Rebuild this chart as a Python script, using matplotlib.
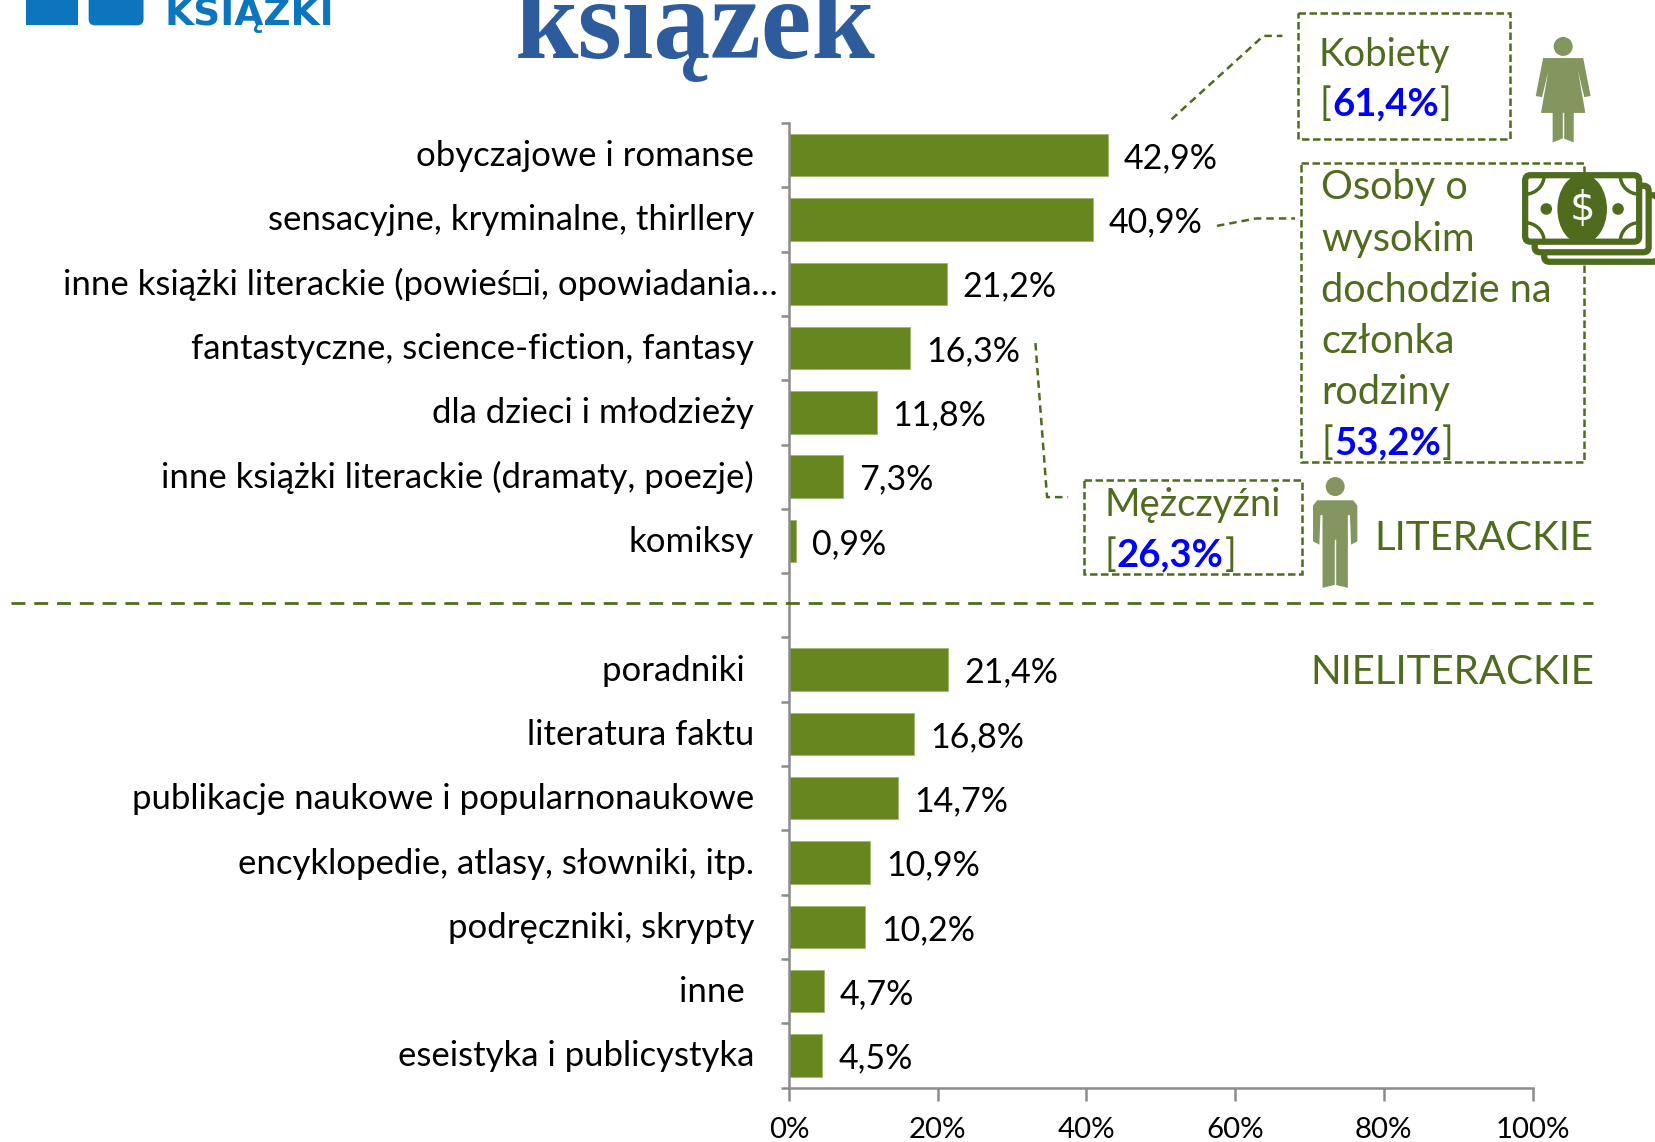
"""Gatunki czytanych ksiazek - slupki poziome z adnotacjami."""

import matplotlib
matplotlib.use("Agg")
import matplotlib.pyplot as plt
from matplotlib.patches import Rectangle, Polygon, Circle, Ellipse, FancyBboxPatch, Arc

plt.rcParams['font.family'] = ['Lato', 'DejaVu Sans']

# dane
literary_labels = [
    "obyczajowe i romanse",
    "sensacyjne, kryminalne, thirllery",
    "inne książki literackie (powieś\u25a1i, opowiadania…",
    "fantastyczne, science-fiction, fantasy",
    "dla dzieci i młodzieży",
    "inne książki literackie (dramaty, poezje)",
    "komiksy",
]
literary_values = [42.9, 40.9, 21.2, 16.3, 11.8, 7.3, 0.9]
other_labels = [
    "poradniki ",
    "literatura faktu",
    "publikacje naukowe i popularnonaukowe",
    "encyklopedie, atlasy, słowniki, itp.",
    "podręczniki, skrypty",
    "inne ",
    "eseistyka i publicystyka",
]
other_values = [21.4, 16.8, 14.7, 10.9, 10.2, 4.7, 4.5]
x_ticks = [0, 20, 40, 60, 80, 100]

GREEN = '#66871f'
DARK = '#4f6b1d'
ICON = '#84965f'
GREY = '#8c8c8c'
BLUE = '#0000ff'
FS = 25
FS_VAL = 24.5
FS_NOTE = 27.5
FS_HEAD = 29
W, H = 1568, 1082  # uklad nakladki, jak na zmniejszonym obrazie

fig = plt.figure(figsize=(16.55, 11.42), dpi=100, facecolor='white')

# wykres
left, right, top, bottom = 747.5, 1452, 116.5, 1030.5
ax = fig.add_axes([left / W, 1 - bottom / H, (right - left) / W, (bottom - top) / H])
ax.patch.set_visible(False)

n_lit = len(literary_values)
y_lit = list(range(n_lit))
y_oth = [n_lit + 1 + i for i in range(len(other_values))]
ys = y_lit + y_oth
values = literary_values + other_values
labels = literary_labels + other_labels

ax.barh(ys, values, height=0.66, color=GREEN, edgecolor='#a3b66f', linewidth=0.6)
ax.set_xlim(0, 100)
ax.set_ylim(len(ys) + 0.5, -0.5)

for s in ['top', 'right']:
    ax.spines[s].set_visible(False)
for s in ['left', 'bottom']:
    ax.spines[s].set_color(GREY)
    ax.spines[s].set_linewidth(1.8)

ax.set_yticks([i - 0.5 for i in range(len(ys) + 2)])
ax.set_yticklabels([])
ax.tick_params(axis='y', length=6, width=1.8, color=GREY)
ax.set_xticks(x_ticks)
ax.set_xticklabels([f"{t}%" for t in x_ticks], fontsize=21.2)
ax.tick_params(axis='x', length=9, width=1.8, color=GREY, pad=12)

ytrans = ax.get_yaxis_transform()
for y, lab, v in zip(ys, labels, values):
    off = -11 if lab.endswith('…') else -35
    ax.annotate(lab, xy=(0, y), xycoords=ytrans, xytext=(off, -1),
                textcoords='offset pixels', ha='right', va='center',
                fontsize=FS, color='black')
    ax.annotate(f"{v:.1f}".replace('.', ',') + '%', xy=(v, y), xytext=(16, -3),
                textcoords='offset pixels', ha='left', va='center',
                fontsize=FS_VAL, color='black')

# nakladka: adnotacje, ikony, naglowek
ov = fig.add_axes([0, 0, 1, 1], facecolor='none')
ov.set_xlim(0, W)
ov.set_ylim(H, 0)
ov.axis('off')


def dashed(xs, ys_, lw=1.8):
    ov.plot(xs, ys_, color=DARK, lw=lw, ls=(0, (3, 2)))


def box(x0, y0, x1, y1):
    ov.add_patch(Rectangle((x0, y0), x1 - x0, y1 - y0, fill=False, ec=DARK,
                           lw=1.8, ls=(0, (3, 1.4))))


def bracket_value(x, y, val):
    t = ov.text(x, y, "[", color=DARK, fontsize=FS_NOTE, va='center', ha='left')
    ov.figure.canvas.draw()
    bb = t.get_window_extent().transformed(ov.transData.inverted())
    t2 = ov.text(bb.x1 + 1, y, val, color=BLUE, fontsize=FS_NOTE, va='center',
                 ha='left', fontweight='bold')
    bb2 = t2.get_window_extent().transformed(ov.transData.inverted())
    ov.text(bb2.x1 + 1, y, "]", color=DARK, fontsize=FS_NOTE, va='center', ha='left')


def woman(cx, top_y):
    ov.add_patch(Circle((cx, top_y + 9), 9, fc=ICON, ec='none'))
    ov.add_patch(Polygon([(cx - 19, top_y + 20), (cx + 19, top_y + 20), (cx + 26, top_y + 56),
                          (cx + 20, top_y + 57), (cx + 14, top_y + 32), (cx + 21, top_y + 72),
                          (cx + 10, top_y + 72), (cx + 10, top_y + 100), (cx, top_y + 96),
                          (cx - 10, top_y + 100), (cx - 10, top_y + 72), (cx - 21, top_y + 72),
                          (cx - 14, top_y + 32), (cx - 20, top_y + 57), (cx - 26, top_y + 56)],
                         fc=ICON, ec='none'))
    ov.plot([cx, cx], [top_y + 72, top_y + 97], color='white', lw=1)


def man(cx, top_y):
    ov.add_patch(Circle((cx, top_y + 9), 9, fc=ICON, ec='none'))
    ov.add_patch(Polygon([(cx - 17, top_y + 22), (cx + 17, top_y + 22), (cx + 21, top_y + 27),
                          (cx + 21, top_y + 61), (cx + 15, top_y + 64), (cx + 14, top_y + 36),
                          (cx + 12, top_y + 36), (cx + 12, top_y + 105), (cx, top_y + 102),
                          (cx - 12, top_y + 105), (cx - 12, top_y + 36), (cx - 14, top_y + 36),
                          (cx - 15, top_y + 64), (cx - 21, top_y + 61),
                          (cx - 21, top_y + 27)], fc=ICON, ec='none'))
    ov.plot([cx, cx], [top_y + 60, top_y + 103], color='white', lw=1)


def money(x0, y0):
    for dx, dy in [(18, 19), (9, 10), (0, 0)]:
        ov.add_patch(FancyBboxPatch((x0 + dx + 3, y0 + dy + 3), 108, 63,
                                    boxstyle="round,pad=0,rounding_size=5",
                                    fc='white', ec=DARK, lw=4.5))
    cx, cy = x0 + 57, y0 + 35
    for ax_, ay_, a in [(x0 + 3, y0 + 3, 0), (x0 + 111, y0 + 3, 90),
                        (x0 + 111, y0 + 66, 180), (x0 + 3, y0 + 66, 270)]:
        ov.add_patch(Arc((ax_, ay_), 36, 36, angle=0, theta1=a, theta2=a + 90,
                         color=DARK, lw=2.5))
    ov.add_patch(Ellipse((cx, cy), 47, 66, fc=DARK, ec='none'))
    ov.text(cx, cy, "$", color='white', fontsize=29, ha='center', va='center',
            family='DejaVu Sans')
    ov.add_patch(Circle((x0 + 23, cy), 5.5, fc=DARK, ec='none'))
    ov.add_patch(Circle((x0 + 91, cy), 5.5, fc=DARK, ec='none'))


# Kobiety
box(1230, 12, 1431, 132)
dashed([1110, 1197, 1215], [113, 34, 34])
ov.text(1249, 52, "Kobiety", color=DARK, fontsize=FS_NOTE, va='center', ha='left')
bracket_value(1250, 99, "61,4%")
woman(1481, 35)

# Osoby o wysokim dochodzie
box(1233, 154, 1501, 438)
dashed([1153, 1190, 1227], [214, 207, 207])
income_lines = ["Osoby o", "wysokim", "dochodzie na", "członka", "rodziny"]
for i, line in enumerate(income_lines):
    ov.text(1252, 178 + 48.5 * i, line, color=DARK, fontsize=FS_HEAD - 0.4, va='center', ha='left')
bracket_value(1252, 420, "53,2%")
money(1442, 163)

# Mezczyzni
box(1027, 455, 1234, 544)
dashed([981, 992, 1012], [325, 471, 471])
ov.text(1046, 478, "Mężczyźni", color=DARK, fontsize=FS_NOTE, va='center', ha='left')
bracket_value(1046, 526, "26,3%")
man(1265, 452)

ov.text(1510, 510, "LITERACKIE", color=DARK, fontsize=FS_HEAD, va='center', ha='right')
ov.text(1510, 637, "NIELITERACKIE", color=DARK, fontsize=FS_HEAD, va='center', ha='right')
ov.plot([10, 1509], [571, 571], color=DARK, lw=2, ls=(0, (5, 3.2)))

# naglowek i logo
ov.text(487, 55, "książek", color='#2e5b9b', fontsize=82, fontweight='bold',
        family='Liberation Serif', ha='left', va='baseline')
ov.add_patch(Rectangle((25, -5), 49, 29, fc='#0b75bd', ec='none'))
ov.add_patch(FancyBboxPatch((84, -20), 52, 44, boxstyle="round,pad=0,rounding_size=6",
                            fc='#0b75bd', ec='none'))
ov.text(236, 24, "KSIĄŻKI", color='#0b75bd', fontsize=27, fontweight='bold',
        family='DejaVu Sans', ha='center', va='baseline')

fig.savefig('out.png', dpi=100)
